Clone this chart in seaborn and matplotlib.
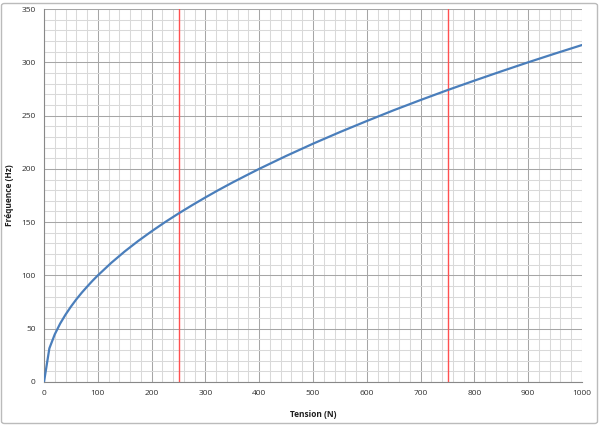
import matplotlib
matplotlib.use('Agg')
import matplotlib.pyplot as plt
import seaborn as sns
import pandas as pd
from matplotlib.patches import FancyBboxPatch

# Values
tension = [0, 10, 20, 30, 40, 50, 60, 70, 80, 90, 100,
           125, 150, 175, 200, 225, 250, 275, 300, 325, 350, 375, 400,
           450, 500, 550, 600, 650, 700, 750, 800, 850, 900, 950, 1000]
frequence = [0, 31.6, 44.7, 54.8, 63.2, 70.7, 77.5, 83.7, 89.4, 94.9, 100,
             111.8, 122.5, 132.3, 141.4, 150.0, 158.1, 165.8, 173.2, 180.3, 187.1, 193.6, 200,
             212.1, 223.6, 234.5, 244.9, 255.0, 264.6, 273.9, 282.8, 291.5, 300, 308.2, 316.2]
red_lines = [250, 750]
x_ticks = [0, 100, 200, 300, 400, 500, 600, 700, 800, 900, 1000]
y_ticks = [0, 50, 100, 150, 200, 250, 300, 350]

df = pd.DataFrame({'Tension': tension, 'Frequence': frequence})

sns.set_style('white')
plt.rcParams['font.family'] = ['Open Sans', 'DejaVu Sans']

fig = plt.figure(figsize=(6, 4.25), dpi=100)
ax = fig.add_axes([44 / 600, 43 / 425, 538 / 600, 373 / 425])

# Excel-like grid: major every 100 / 50, minor every 20 / 10
for x in range(0, 1001, 20):
    major = x % 100 == 0
    ax.axvline(x, color='#a6a6a6' if major else '#d9d9d9', lw=0.75, zorder=0)
for y in range(0, 351, 10):
    major = y % 50 == 0
    ax.axhline(y, color='#a6a6a6' if major else '#d9d9d9', lw=0.75, zorder=0)

for x in red_lines:
    ax.axvline(x, color='#ff5050', lw=1.0, zorder=1)

sns.lineplot(data=df, x='Tension', y='Frequence', ax=ax, color='#4a7ebb', lw=1.6, zorder=3)

ax.set_xlim(0, 1000)
ax.set_ylim(0, 350)
ax.set_xticks(x_ticks)
ax.set_yticks(y_ticks)
ax.tick_params(axis='both', labelsize=6, colors='#888888', labelcolor='#303030',
               length=3, width=0.8, direction='out', pad=3)
for side in ['top', 'right']:
    ax.spines[side].set_visible(False)
for side in ['left', 'bottom']:
    ax.spines[side].set_color('#888888')
    ax.spines[side].set_linewidth(0.8)

ax.set_xlabel('Tension (N)', fontsize=6, fontweight='bold', color='#202020')
ax.set_ylabel('Fréquence (Hz)', fontsize=6, fontweight='bold', color='#202020')
ax.xaxis.set_label_coords(0.5, -0.075)
ax.yaxis.set_label_coords(-0.056, 0.5)

# outer chart border
border = FancyBboxPatch((1.5 / 600, 1.5 / 425), 596 / 600, 420 / 425,
                        boxstyle='round,pad=0,rounding_size=0.005',
                        transform=fig.transFigure, fill=False,
                        edgecolor='#bbbbbb', lw=1.0)
fig.patches.append(border)

fig.savefig('out.png', dpi=100)
